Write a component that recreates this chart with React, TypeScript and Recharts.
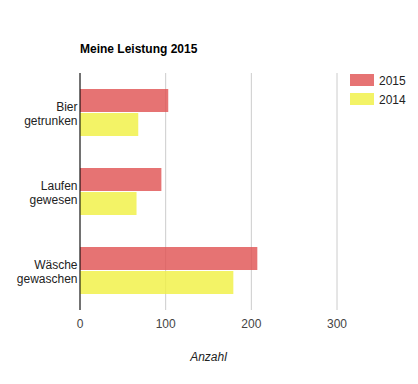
import React from 'react';
import { BarChart, Bar, XAxis, YAxis, CartesianGrid, Legend } from 'recharts';

const categories = ['Bier getrunken', 'Laufen gewesen', 'Wäsche gewaschen'];
const values2015 = [103, 95, 207];
const values2014 = [68, 66, 179];
const xTicks = [0, 100, 200, 300];
const seriesNames = ['2015', '2014'];

const data = categories.map((c, i) => ({
  name: c,
  [seriesNames[0]]: values2015[i],
  [seriesNames[1]]: values2014[i],
}));

const FONT = '"Liberation Sans", Arial, sans-serif';

const CategoryTick = (props: any) => {
  const { x, y, payload } = props;
  const parts = String(payload.value).split(' ');
  return (
    <text x={x - 2.5} y={y} textAnchor="end" fontFamily={FONT} fontSize={12} fill="#222">
      {parts.map((p: string, i: number) => (
        <tspan key={i} x={x - 2.5} dy={i === 0 ? -2 : 14}>{p}</tspan>
      ))}
    </text>
  );
};

const LegendContent = (props: any) => {
  const payload = [...(props.payload || [])].sort(
    (a: any, b: any) => seriesNames.indexOf(String(a.value)) - seriesNames.indexOf(String(b.value))
  );
  return (
    <svg width={60} height={40} style={{ display: 'block' }}>
      {payload.map((item: any, i: number) => (
        <g key={item.value}>
          <rect x={0} y={i * 19} width={24} height={12} fill={item.color} fillOpacity={0.8} />
          <text x={29} y={i * 19 + 11} fontFamily={FONT} fontSize={12} fill="#222">{item.value}</text>
        </g>
      ))}
    </svg>
  );
};

const AxisTitle = (props: any) => {
  const { viewBox } = props;
  return (
    <text
      x={viewBox.x + viewBox.width / 2}
      y={viewBox.y + 51}
      textAnchor="middle"
      fontFamily={FONT}
      fontSize={12}
      fontStyle="italic"
      fill="#222"
    >
      Anzahl
    </text>
  );
};

export default function App() {
  return (
    <div style={{ position: 'absolute', left: 0, top: 0, width: 418, height: 384, background: '#fff' }}>
      <BarChart
        width={418}
        height={384}
        data={data}
        layout="vertical"
        margin={{ top: 73, right: 81, bottom: 14, left: 0 }}
        barCategoryGap={16}
        barGap={1}
      >
        <CartesianGrid horizontal={false} vertical={true} stroke="#ccc" />
        <XAxis
          type="number"
          domain={[0, 300]}
          ticks={xTicks}
          axisLine={false}
          tickLine={false}
          tickMargin={3.5}
          height={60}
          tick={{ fontFamily: FONT, fontSize: 12, fill: '#444' }}
          label={<AxisTitle />}
        />
        <YAxis
          type="category"
          dataKey="name"
          width={80}
          axisLine={{ stroke: '#000', strokeWidth: 1 }}
          tickLine={false}
          tickSize={0}
          tickMargin={0}
          tick={<CategoryTick />}
        />
        <Legend
          layout="horizontal"
          verticalAlign="middle"
          align="center"
          content={<LegendContent />}
          wrapperStyle={{ left: 350, top: 74, width: 60, height: 40 }}
        />
        <Bar dataKey={seriesNames[0]} fill="#e05050" fillOpacity={0.8} isAnimationActive={false} />
        <Bar dataKey={seriesNames[1]} fill="#f0f040" fillOpacity={0.8} isAnimationActive={false} />
      </BarChart>
      <svg width={418} height={60} style={{ position: 'absolute', left: 0, top: 0, pointerEvents: 'none' }}>
        <text x={80} y={53} fontFamily={FONT} fontSize={12} fontWeight="bold" fill="#000">
          Meine Leistung 2015
        </text>
      </svg>
    </div>
  );
}
